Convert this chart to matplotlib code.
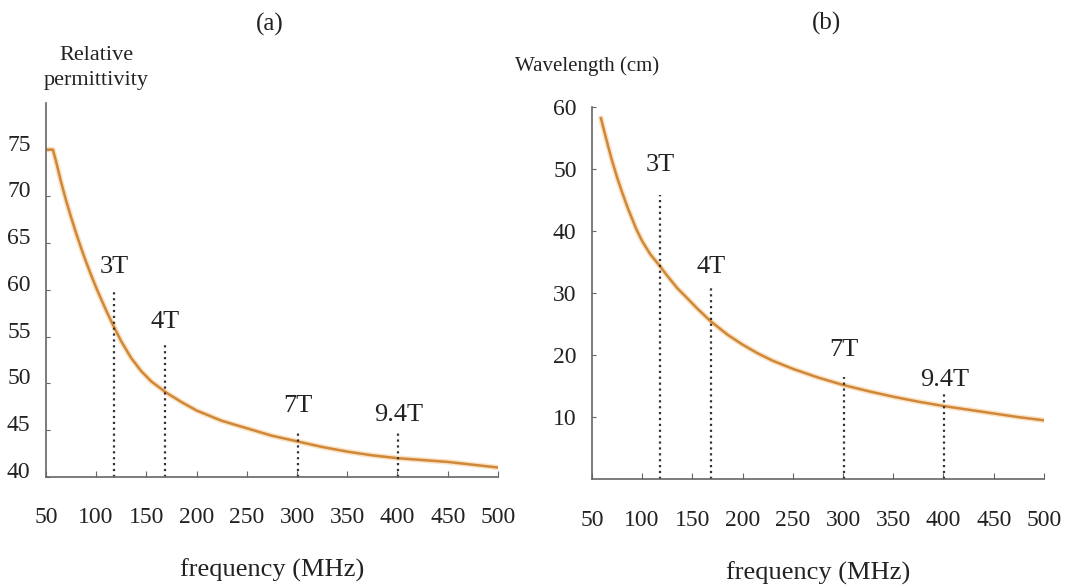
from matplotlib import pyplot as plt
from matplotlib import transforms

plt.rcParams['font.family'] = ['Liberation Serif', 'DejaVu Serif']

# (a) relative permittivity vs frequency
freq_a = [50, 57, 60, 65, 70, 75, 80, 85, 90, 95, 101, 110, 118, 125, 135, 145, 155, 170, 185, 200,
          225, 250, 275, 300, 325, 350, 375, 400, 425, 450, 475, 500]
perm = [75, 75, 73.8, 71.6, 69.6, 67.8, 66.1, 64.5, 63, 61.6, 60, 57.8, 56, 54.5, 52.7, 51.3, 50.2, 49, 48, 47.1,
        46, 45.2, 44.4, 43.8, 43.2, 42.7, 42.3, 42, 41.8, 41.6, 41.3, 41]

# (b) wavelength vs frequency
freq_b = [59, 62, 66, 70, 75, 80, 86, 94, 100, 108, 117, 125, 135, 143, 155, 168, 185, 200, 215,
          230, 250, 275, 300, 325, 350, 375, 400, 425, 450, 475, 500]
wavelen = [58.2, 56.3, 53.8, 51.4, 48.7, 46.3, 43.6, 40.4, 38.4, 36.3, 34.5, 32.8, 30.8, 29.5, 27.5, 25.5, 23.3, 21.7, 20.3,
           19.1, 17.8, 16.4, 15.2, 14.2, 13.3, 12.5, 11.8, 11.2, 10.6, 10, 9.5]

# field strengths
field_labels = ['3T', '4T', '7T', '9.4T']
field_freq = [118, 169, 301, 401]
top_a = [60, 54.2, 44.8, 44.7]
lab_a = [62.4, 56.6, 47.6, 46.6]
top_b = [45.8, 31, 16.5, 13.9]
lab_b = [50.6, 34.2, 20.8, 16]

xticks = [50, 100, 150, 200, 250, 300, 350, 400, 450, 500]
yticks_a = [40, 45, 50, 55, 60, 65, 70, 75]
yticks_b = [10, 20, 30, 40, 50, 60]

curve_col = '#d08838'
axis_col = '#666666'
txt_col = '#222222'

fig = plt.figure(figsize=(10.92, 5.88), dpi=100)
ax1 = fig.add_axes([0.042, 0.189, 0.414, 0.636])
ax2 = fig.add_axes([0.542, 0.185, 0.414, 0.633])


def style(ax):
    for s in ['top', 'right']:
        ax.spines[s].set_visible(False)
    for s in ['left', 'bottom']:
        ax.spines[s].set_color(axis_col)
        ax.spines[s].set_linewidth(1.2)
    ax.tick_params(axis='x', direction='in', length=4, color=axis_col, pad=22, labelsize=17, labelcolor=txt_col)
    ax.tick_params(axis='y', direction='in', length=3, color=axis_col, pad=11, labelsize=17, labelcolor=txt_col)
    ax.set_xlim(50, 500)
    ax.set_xticks(xticks)
    ax.set_xlabel('frequency (MHz)', fontsize=19, labelpad=22, color=txt_col)


# panel (a)
ax1.plot(freq_a, perm, color='#f5c890', lw=4, alpha=0.5, solid_capstyle='round')
ax1.plot(freq_a, perm, color=curve_col, lw=1.8)
for lab, f, t, ly in zip(field_labels, field_freq, top_a, lab_a):
    ax1.plot([f, f], [40, t], ls=':', color='#333333', lw=1.6)
    ax1.text(f, ly, lab, ha='center', va='center', fontsize=19, color=txt_col)
style(ax1)
ax1.set_ylim(40, 80)
ax1.set_yticks(yticks_a)
off = transforms.ScaledTranslation(0, 7 / 100, fig.dpi_scale_trans)
for t in ax1.get_yticklabels():
    t.set_transform(t.get_transform() + off)
ax1.text(0.112, 1.094, 'Relative\npermittivity', transform=ax1.transAxes, ha='center', va='center',
         fontsize=16, color=txt_col, linespacing=1.45)
ax1.set_title('(a)', fontsize=18, pad=52, x=0.495, color=txt_col)

# panel (b)
ax2.plot(freq_b, wavelen, color='#f5c890', lw=4, alpha=0.5, solid_capstyle='round')
ax2.plot(freq_b, wavelen, color=curve_col, lw=1.8)
for lab, f, t, ly in zip(field_labels, field_freq, top_b, lab_b):
    ax2.plot([f, f], [0, t], ls=':', color='#333333', lw=1.6)
    ax2.text(f, ly, lab, ha='center', va='center', fontsize=19, color=txt_col)
style(ax2)
ax2.set_ylim(0, 60)
ax2.set_yticks(yticks_b)
ax2.text(-0.01, 1.11, 'Wavelength (cm)', transform=ax2.transAxes, ha='center', va='center',
         fontsize=15, color=txt_col)
ax2.set_title('(b)', fontsize=18, pad=56, x=0.52, color=txt_col)

fig.savefig('out.png', dpi=100)
